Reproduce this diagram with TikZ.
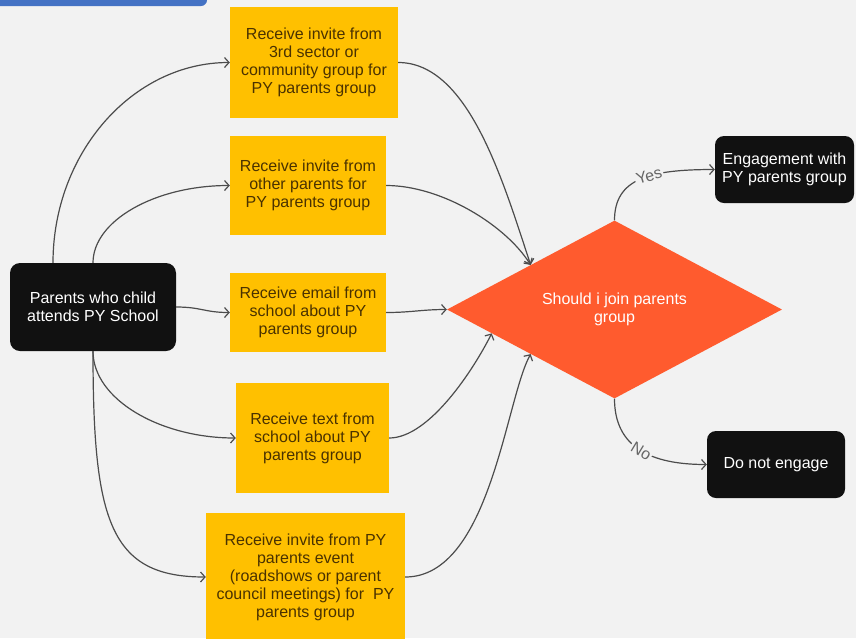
\documentclass[tikz,border=0pt]{standalone}
\usepackage{fontspec}
\setmainfont{Liberation Sans}
\usetikzlibrary{shapes.geometric,arrows.meta}
\definecolor{bgcol}{HTML}{F2F2F2}
\definecolor{amber}{HTML}{FFC000}
\definecolor{amberink}{HTML}{4A3200}
\definecolor{decfill}{HTML}{FF5B2E}
\definecolor{linkcol}{HTML}{4C4C4C}
\definecolor{tagcol}{HTML}{666666}
\definecolor{barblue}{HTML}{4472C4}
\definecolor{darkbox}{HTML}{111111}

\begin{document}
\begin{tikzpicture}[x=1pt,y=1pt,
  every node/.style={font=\fontsize{16}{18}\selectfont, inner sep=0pt, align=center},
  option/.style={rectangle, fill=amber, text=amberink},
  terminal/.style={rectangle, rounded corners=10pt, fill=darkbox, text=white},
  decision/.style={diamond, fill=decfill, text=white},
  link/.style={draw=linkcol, line width=1.2pt, -{Straight Barb[length=4.5pt,width=10pt]}},
  tag/.style={fill=bgcol, text=tagcol, inner sep=1.5pt, sloped, font=\fontsize{16}{17}\selectfont}
]
\useasboundingbox (0,0) rectangle (856,-638);
\fill[bgcol] (0,0) rectangle (856,-638);
% title tab at the top edge
\fill[barblue, rounded corners=6pt] (-10,12) rectangle (207,-6);

% start point
\node[terminal, minimum width=166pt, minimum height=88pt] (src) at (93,-307)
  {Parents who child\\attends PY School};

% ways of being invited
\node[option, minimum width=168pt, minimum height=111pt] (b1) at (314,-62.5)
  {Receive invite from\\3rd sector or\\community group for\\PY parents group};
\node[option, minimum width=156pt, minimum height=99pt] (b2) at (308,-185.5)
  {Receive invite from\\other parents for\\PY parents group};
\node[option, minimum width=156pt, minimum height=79pt] (b3) at (308,-312.5)
  {Receive email from\\school about PY\\parents group};
\node[option, minimum width=153pt, minimum height=110pt] (b4) at (312.5,-438)
  {Receive text from\\school about PY\\parents group};
\node[option, minimum width=199pt, minimum height=128pt] (b5) at (305.5,-577)
  {Receive invite from PY\\parents event\\(roadshows or parent\\council meetings) for\ \ PY\\parents group};

% decision
\node[decision, minimum width=335pt, minimum height=175pt] (dec) at (614.5,-309.5)
  {Should i join parents\\group};

% outcomes
\node[terminal, rounded corners=9pt, minimum width=139pt, minimum height=67pt] (eng) at (784.5,-169.5)
  {Engagement with\\PY parents group};
\node[terminal, rounded corners=9pt, minimum width=138pt, minimum height=67pt] (dne) at (776,-464.5)
  {Do not engage};

% fan-out from the start point
\draw[link] ([xshift=-40pt]src.north) .. controls +(0,110) and +(-97,0) .. (b1.west);
\draw[link] (src.north) .. controls +(0,42) and +(-75,0) .. (b2.west);
\draw[link] (src.east) .. controls +(25,0) and +(-25,0) .. (b3.west);
\draw[link] (src.south) .. controls +(0,-48) and +(-76,0) .. (b4.west);
\draw[link] (src.south) .. controls +(0,-170) and +(-96,0) .. (b5.west);

% fan-in to the decision
\draw[link] (b1.east) .. controls +(70,0) and +(-28,85) .. (dec.north west);
\draw[link] (b2.east) .. controls +(55,0) and +(-25,40) .. (dec.north west);
\draw[link] (b3.east) .. controls +(25,0) and +(-25,0) .. (dec.west);
\draw[link] (b4.east) .. controls +(40,0) and +(-18,-36) .. (dec.191);
\draw[link] (b5.east) .. controls +(85,0) and +(-25,-45) .. (dec.south west);

% answers
\draw[link] (dec.north) .. controls +(0,42) and +(-65,0) .. node[tag, pos=0.58] {Yes} (eng.west);
\draw[link] (dec.south) .. controls +(0,-48) and +(-57,0) .. node[tag, pos=0.52] {No} (dne.west);
\end{tikzpicture}
\end{document}
